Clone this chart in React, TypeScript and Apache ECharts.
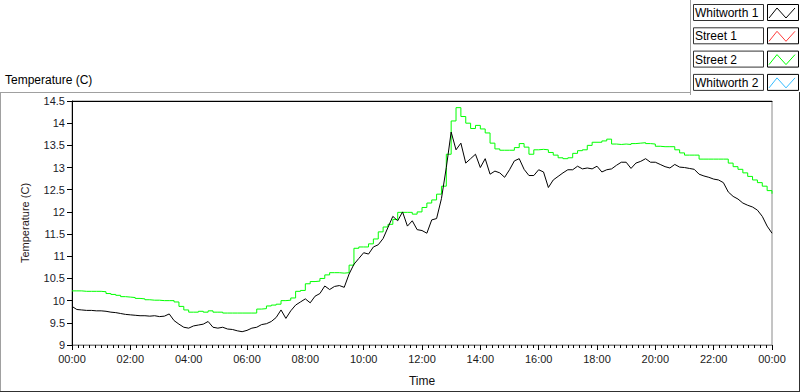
import React, { useEffect, useRef } from "react";
import * as echarts from "echarts";

// Sample step in minutes (readings taken every 10 minutes from 00:00 to 24:00)
const SAMPLE_STEP = 10;

const seriesNames = ["Whitworth 1", "Street 1", "Street 2", "Whitworth 2"];
const seriesColors = ["#000000", "#ff3b3b", "#00ff00", "#33bbff"];

const whitworth1: number[] = [
  9.87, 9.8, 9.79, 9.78, 9.78, 9.77, 9.77, 9.76, 9.74, 9.73, 9.71, 9.69,
  9.68, 9.67, 9.66, 9.66, 9.65, 9.66, 9.64, 9.65, 9.7, 9.55, 9.47, 9.4,
  9.38, 9.43, 9.45, 9.47, 9.53, 9.4, 9.38, 9.4, 9.36, 9.35, 9.32, 9.3,
  9.33, 9.38, 9.4, 9.46, 9.48, 9.53, 9.62, 9.79, 9.6, 9.77, 9.9, 9.97,
  10.04, 9.95, 10.1, 10.16, 10.33, 10.25, 10.32, 10.34, 10.3, 10.6, 10.82, 10.95,
  11.08, 11.05, 11.21, 11.26, 11.4, 11.65, 11.9, 11.8, 12.0, 11.68, 11.8, 11.6,
  11.58, 11.52, 11.82, 11.85, 12.3, 13.0, 13.8, 13.4, 13.55, 13.1, 13.2, 13.3,
  13.0, 13.2, 12.85, 12.92, 12.88, 12.78, 12.95, 13.15, 13.2, 12.96, 12.82, 12.82,
  12.95, 12.9, 12.55, 12.72, 12.8, 12.88, 12.95, 12.95, 13.03, 12.97, 12.99, 12.97,
  13.03, 12.9, 12.95, 12.97, 13.05, 13.12, 13.12, 12.98, 13.1, 13.14, 13.2, 13.12,
  13.12, 13.07, 13.02, 12.99, 13.07, 13.01, 13.0, 12.98, 12.96, 12.85, 12.81, 12.78,
  12.74, 12.72, 12.66, 12.45, 12.35, 12.29, 12.2, 12.15, 12.11, 12.04, 11.9, 11.68,
  11.52,
];

const street1: number[] = [];

const street2: number[] = [
  10.22, 10.22, 10.21, 10.21, 10.21, 10.21, 10.2, 10.16, 10.14, 10.12, 10.09, 10.08,
  10.07, 10.05, 10.04, 10.02, 10.01, 10.01, 10.0, 10.0, 10.0, 9.97, 9.87, 9.79,
  9.74, 9.74, 9.76, 9.74, 9.77, 9.74, 9.74, 9.72, 9.72, 9.72, 9.72, 9.72,
  9.72, 9.72, 9.81, 9.82, 9.88, 9.9, 9.92, 10.0, 10.01, 10.06, 10.21, 10.23,
  10.38, 10.43, 10.44, 10.5, 10.58, 10.63, 10.63, 10.62, 10.63, 10.8, 11.18, 11.21,
  11.21, 11.28, 11.39, 11.55, 11.66, 11.72, 11.83, 11.99, 11.99, 11.99, 11.95, 12.0,
  12.1, 12.2, 12.27, 12.4, 12.58, 13.3, 14.05, 14.35, 14.15, 14.0, 13.88, 13.95,
  13.87, 13.78, 13.55, 13.42, 13.39, 13.39, 13.39, 13.45, 13.54, 13.46, 13.3, 13.4,
  13.41, 13.4, 13.34, 13.28, 13.22, 13.2, 13.22, 13.32, 13.38, 13.4, 13.5, 13.57,
  13.57, 13.6, 13.64, 13.53, 13.52, 13.53, 13.52, 13.54, 13.55, 13.56, 13.54, 13.53,
  13.48, 13.47, 13.47, 13.47, 13.4, 13.33, 13.28, 13.28, 13.28, 13.19, 13.19, 13.19,
  13.19, 13.19, 13.19, 13.1, 13.02, 12.96, 12.88, 12.8, 12.72, 12.66, 12.58, 12.48,
  12.41,
];

const whitworth2: number[] = [];

const Y_MIN = 9;
const Y_MAX = 14.5;
const Y_STEP = 0.5;
const X_MIN = 0;
const X_MAX = 1440;
const X_STEP = 120;

const FONT = "'Liberation Sans', Arial, sans-serif";

function toPairs(values: number[]) {
  return values.map((v, i) => [i * SAMPLE_STEP, v]);
}

function fmtTime(v: number) {
  const m = Math.round(v) % 1440;
  const h = Math.floor(m / 60);
  const mm = m % 60;
  return String(h).padStart(2, "0") + ":" + String(mm).padStart(2, "0");
}

function legendGraphics() {
  const els: any[] = [];
  seriesNames.forEach((name, i) => {
    const top = 4 + i * 23.3;
    els.push({
      type: "rect",
      shape: { x: 693.5, y: top + 0.5, width: 70, height: 16 },
      style: { fill: "#fff", stroke: "#333", lineWidth: 1 },
      silent: true,
    });
    els.push({
      type: "text",
      x: 695,
      y: top + 9,
      style: {
        text: name,
        fill: "#000",
        font: "12px " + FONT,
        textVerticalAlign: "middle",
        verticalAlign: "middle",
      },
      silent: true,
    });
    els.push({
      type: "rect",
      shape: { x: 767.5, y: top + 0.5, width: 31, height: 16 },
      style: { fill: "#fff", stroke: "#000", lineWidth: 1 },
      silent: true,
    });
    els.push({
      type: "polyline",
      shape: {
        points: [
          [769, top + 14],
          [777, top + 4],
          [786, top + 14],
          [795, top + 4],
        ],
      },
      style: { stroke: seriesColors[i], lineWidth: 1, fill: null },
      silent: true,
    });
  });
  return els;
}

export default function App() {
  const ref = useRef<HTMLDivElement>(null);

  useEffect(() => {
    document.body.style.margin = "0";
    if (!ref.current) return;
    const chart = echarts.init(ref.current, undefined, { renderer: "svg" });

    const seriesData = [whitworth1, street1, street2, whitworth2];

    chart.setOption({
      animation: false,
      backgroundColor: "#ffffff",
      textStyle: { fontFamily: FONT },
      grid: {
        left: 72,
        top: 101,
        right: 28,
        bottom: 39,
        show: true,
        borderColor: "#8a8a8a",
        borderWidth: 1,
        backgroundColor: "#ffffff",
      },
      xAxis: [
        {
          type: "value",
          min: X_MIN,
          max: X_MAX,
          interval: X_STEP,
          name: "Time",
          nameLocation: "middle",
          nameGap: 30,
          nameTextStyle: { color: "#111", fontSize: 12, fontFamily: FONT },
          axisLine: { show: true, onZero: false, lineStyle: { color: "#8a8a8a", width: 1 } },
          axisTick: { show: true, length: 5, lineStyle: { color: "#000" } },
          minorTick: { show: true, splitNumber: 10, length: 3, lineStyle: { color: "#000" } },
          axisLabel: {
            color: "#1a1a1a",
            fontSize: 11,
            fontFamily: FONT,
            margin: 8,
            formatter: (v: number) => fmtTime(v),
          },
          splitLine: { show: false },
        },
        {
          type: "value",
          position: "top",
          min: X_MIN,
          max: X_MAX,
          axisLine: { show: true, onZero: false, lineStyle: { color: "#000", width: 1 } },
          axisTick: { show: false },
          axisLabel: { show: false },
          splitLine: { show: false },
        },
      ],
      yAxis: {
        type: "value",
        min: Y_MIN,
        max: Y_MAX,
        interval: Y_STEP,
        name: "Temperature (C)",
        nameLocation: "middle",
        nameGap: 42,
        nameTextStyle: { color: "#2a1a1a", fontSize: 11, fontFamily: FONT },
        axisLine: { show: true, onZero: false, lineStyle: { color: "#000", width: 1 } },
        axisTick: { show: true, length: 5, lineStyle: { color: "#000" } },
        axisLabel: { color: "#1a1a2a", fontSize: 11, fontFamily: FONT, margin: 7 },
        splitLine: { show: false },
      },
      series: seriesNames.map((name, i) => ({
        name,
        type: "line",
        data: toPairs(seriesData[i]),
        showSymbol: false,
        symbol: "none",
        step: name === "Street 2" ? "end" : undefined,
        lineStyle: { color: seriesColors[i], width: 1 },
        itemStyle: { color: seriesColors[i] },
        z: name === "Street 2" ? 2 : 3,
      })),
      graphic: [
        // outer frame
        {
          type: "line",
          shape: { x1: 0, y1: 92.5, x2: 690, y2: 92.5 },
          style: { stroke: "#a0a0a0", lineWidth: 1 },
          silent: true,
        },
        {
          type: "line",
          shape: { x1: 0.5, y1: 92, x2: 0.5, y2: 392 },
          style: { stroke: "#a0a0a0", lineWidth: 1 },
          silent: true,
        },
        {
          type: "line",
          shape: { x1: 0, y1: 391.5, x2: 800, y2: 391.5 },
          style: { stroke: "#303030", lineWidth: 1 },
          silent: true,
        },
        {
          type: "line",
          shape: { x1: 799.5, y1: 92, x2: 799.5, y2: 392 },
          style: { stroke: "#303030", lineWidth: 1 },
          silent: true,
        },
        {
          type: "line",
          shape: { x1: 690.5, y1: 0, x2: 690.5, y2: 95 },
          style: { stroke: "#a0a0a0", lineWidth: 1 },
          silent: true,
        },
        {
          type: "text",
          x: 5,
          y: 80,
          style: {
            text: "Temperature (C)",
            fill: "#000",
            font: "12px " + FONT,
            verticalAlign: "middle",
          },
          silent: true,
        },
        ...legendGraphics(),
      ],
    });

    return () => {
      chart.dispose();
    };
  }, []);

  return <div ref={ref} style={{ width: 800, height: 392 }} />;
}
